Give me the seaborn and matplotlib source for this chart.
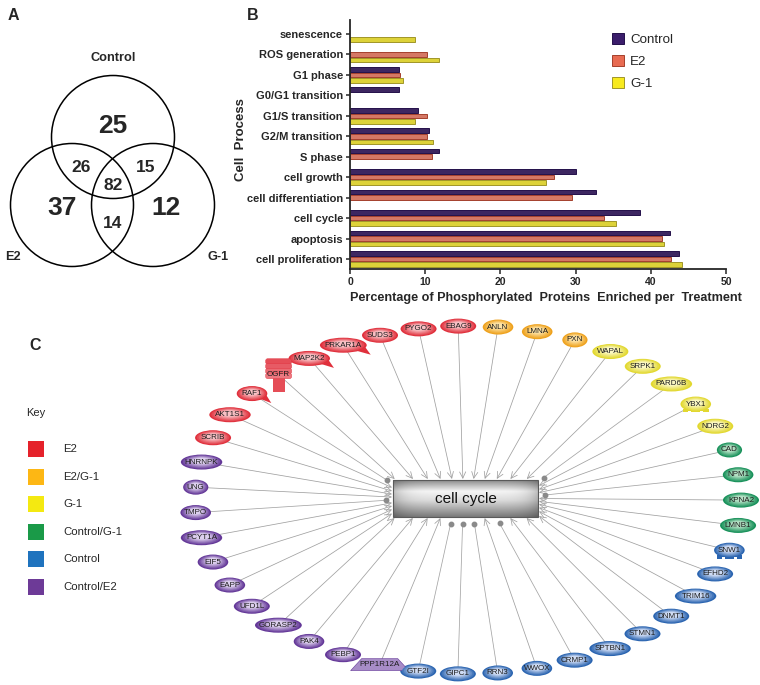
import numpy as np
import pandas as pd
import matplotlib
matplotlib.use("Agg")
import matplotlib.pyplot as plt
from matplotlib.patches import Circle, Ellipse, Rectangle, Polygon, Patch, FancyBboxPatch
from matplotlib.colors import to_rgb
import seaborn as sns

# ---- panel A: venn counts
venn_sets = ["Control", "E2", "G-1"]
venn_regions = ["Control", "Control/E2", "Control/G-1", "all", "E2", "G-1", "E2/G-1"]
venn_counts = [25, 26, 15, 82, 37, 12, 14]

# ---- panel B: % of phosphorylated proteins per process
processes = ["senescence", "ROS generation", "G1 phase", "G0/G1 transition",
             "G1/S transition", "G2/M transition", "S phase", "cell growth",
             "cell differentiation", "cell cycle", "apoptosis", "cell proliferation"]
treatments = ["Control", "E2", "G-1"]
pct_control = [np.nan, np.nan, 6.5, 6.5, 9.1, 10.5, 11.8, 30.0, 32.7, 38.6, 42.5, 43.8]
pct_e2 = [np.nan, 10.2, 6.6, np.nan, 10.2, 10.2, 10.9, 27.1, 29.5, 33.8, 41.5, 42.7]
pct_g1 = [8.7, 11.8, 7.1, np.nan, 8.7, 11.0, np.nan, 26.0, np.nan, 35.4, 41.7, 44.1]

# ---- panel C: cell cycle network (ring order, starting at the bottom)
genes = ["GTF2I", "GIPC1", "RRN3", "WWOX", "CRMP1", "SPTBN1", "STMN1", "DNMT1",
         "TRIM16", "EFHD2", "SNW1",
         "LMNB1", "KPNA2", "NPM1", "CAD",
         "NDRG2", "YBX1", "PARD6B", "SRPK1", "WAPAL",
         "PXN", "LMNA", "ANLN",
         "EBAG9", "PYGO2", "SUDS3", "PRKAR1A", "MAP2K2", "OGFR", "RAF1", "AKT1S1", "SCRIB",
         "HNRNPK", "UNG", "TMPO", "PCYT1A", "EIF5", "EAPP", "UFD1L", "GORASP2", "PAK4",
         "PEBP1", "PPP1R12A"]
gene_groups = (["Control"] * 11 + ["Control/G-1"] * 4 + ["G-1"] * 5 + ["E2/G-1"] * 3
               + ["E2"] * 9 + ["Control/E2"] * 11)
key_groups = ["E2", "E2/G-1", "G-1", "Control/G-1", "Control", "Control/E2"]
node_shapes = {"OGFR": "channel", "MAP2K2": "kinase", "PRKAR1A": "kinase", "RAF1": "kinase",
               "YBX1": "regulator", "SNW1": "regulator", "PPP1R12A": "phosphatase"}
dot_ended = ["RAF1", "PARD6B", "NPM1", "TMPO", "GTF2I", "GIPC1", "RRN3", "CRMP1"]

# colours
bar_face = ["#3b1d6b", "#e86b52", "#f8ea1e"]
bar_edge = ["#24104a", "#a4402c", "#a09628"]
key_colors = {"E2": "#e5222b", "E2/G-1": "#fdb714", "G-1": "#f4e911",
              "Control/G-1": "#1a9a48", "Control": "#1f73be", "Control/E2": "#6d3a97"}
node_dark = {"E2": "#e0303c", "E2/G-1": "#eea11c", "G-1": "#e2d830",
             "Control/G-1": "#18915a", "Control": "#2a64b0", "Control/E2": "#643898"}
node_light = {"E2": "#f8c0c4", "E2/G-1": "#fde2a4", "G-1": "#fbf8c4",
              "Control/G-1": "#b4e0c4", "Control": "#cfdcf4", "Control/E2": "#ddd0ee"}

sns.set_style("ticks")
plt.rcParams["font.family"] = ["Liberation Sans", "DejaVu Sans"]


def shade(c1, c2, t):
    a, b = np.array(to_rgb(c1)), np.array(to_rgb(c2))
    return tuple(a + (b - a) * t)


def gradient_ellipse(ax, x, y, w, h, dark, light, z=5):
    steps = 7
    for k in range(steps):
        t = k / (steps - 1)
        s = 1 - 0.6 * t
        ax.add_patch(Ellipse((x, y - 1.2 * t), w * s, h * s, fc=shade(dark, light, t),
                             ec="none", zorder=z + k * 0.01))


def draw_node(ax, x, y, name, grp):
    w = 5.4 * len(name) + 9
    h = 15
    dark, light = node_dark[grp], node_light[grp]
    shape = node_shapes.get(name, "ellipse")
    if shape == "channel":
        ax.add_patch(Rectangle((x - 6, y + 3), 12, 14, fc=shade(dark, light, 0.2), ec="none", zorder=5))
        for k in range(4):
            ax.add_patch(FancyBboxPatch((x - 13, y - 16 + k * 4.8), 26, 5.6,
                                        boxstyle="round,pad=0,rounding_size=2.2",
                                        fc=shade(dark, light, 0.2 + 0.1 * k), ec=dark, lw=0.3,
                                        zorder=5 + k * 0.01))
    elif shape == "phosphatase":
        ax.add_patch(Polygon([(x - w / 2 - 3, y + 6), (x + w / 2 + 3, y + 6),
                              (x + w / 2 - 8, y - 6), (x - w / 2 + 8, y - 6)],
                             closed=True, fc=shade(dark, light, 0.55), ec=dark, lw=0.4, zorder=5))
    else:
        if shape == "kinase":
            ax.add_patch(Polygon([(x + w * 0.2, y + h * 0.3), (x + w * 0.5 + 4, y + h * 0.5 + 2),
                                  (x + w * 0.45, y + h * 0.05)], closed=True, fc=dark, ec="none", zorder=5))
        if shape == "regulator":
            ax.add_patch(Rectangle((x - w * 0.42, y + h * 0.32), w * 0.84, 3.5, fc=dark, ec="none", zorder=5))
            for off in (-0.2, 0.2):
                ax.add_patch(Rectangle((x + w * off - 1.5, y + h * 0.32 + 2.2), 3, 1.5,
                                       fc="white", ec="none", zorder=5.1))
        gradient_ellipse(ax, x, y, w, h, dark, light)
    ax.text(x, y, name, fontsize=5.8, ha="center", va="center", color="#1c1c1c", zorder=11)


fig = plt.figure(figsize=(7.6, 6.85), dpi=100)

# full-figure canvas in pixel units for panels A and C
canvas = fig.add_axes([0, 0, 1, 1])
canvas.axis("off")

# ---- panel A
venn_centers = [(113, 137), (72, 205), (153, 205)]
for cx, cy in venn_centers:
    canvas.add_patch(Circle((cx, cy), 61.5, fill=False, ec="black", lw=1.1))
set_label_xy = [(113, 58), (13, 257), (218, 257)]
for name, (lx, ly) in zip(venn_sets, set_label_xy):
    canvas.text(lx, ly, name, fontsize=9.2, fontweight="bold", ha="center", va="center")
region_xy = [(113, 126), (81, 167), (146, 167), (113, 185), (62, 208), (166, 208), (113, 223)]
for region, count, (rx, ry) in zip(venn_regions, venn_counts, region_xy):
    big = region in venn_sets
    canvas.text(rx, ry, str(count), fontsize=19 if big else 12.5, fontweight="bold",
                ha="center", va="center")

for letter, (lx, ly) in zip("ABC", [(13, 15), (253, 15), (35, 345)]):
    canvas.text(lx, ly, letter, fontsize=11.5, fontweight="bold", ha="center", va="center")

# ---- panel C
box_x0, box_x1, box_y0, box_y1 = 393, 538, 480, 517
bcx, bcy = (box_x0 + box_x1) / 2, (box_y0 + box_y1) / 2
hw, hh = (box_x1 - box_x0) / 2, (box_y1 - box_y0) / 2

ring_cx, ring_cy, ring_a, ring_b = 468, 500, 273, 174
theta = np.deg2rad(100.5 - np.arange(len(genes)) * 360 / len(genes))
node_x = ring_cx + ring_a * np.cos(theta)
node_y = ring_cy + ring_b * np.sin(theta)

for name, grp, th, nx, ny in zip(genes, gene_groups, theta, node_x, node_y):
    c, s = np.cos(th), np.sin(th)
    k = 1 / max(abs(c), abs(s))
    ex, ey = bcx + k * (hw + 1) * c, bcy + k * (hh + 1) * s
    if name in dot_ended:
        d = np.hypot(nx - ex, ny - ey)
        ex, ey = ex + (nx - ex) / d * 6, ey + (ny - ey) / d * 6
        canvas.plot([nx, ex], [ny, ey], color="#a4a4a4", lw=0.55, zorder=2)
        canvas.plot(ex, ey, "o", ms=3.2, color="#8a8a8a", zorder=3)
    else:
        canvas.annotate("", xy=(ex, ey), xytext=(nx, ny),
                        arrowprops=dict(arrowstyle="->,head_length=0.45,head_width=0.22",
                                        color="#a0a0a0", lw=0.55, shrinkA=0, shrinkB=0),
                        zorder=2)
    draw_node(canvas, nx, ny, name, grp)

# central "cell cycle" box with metallic gradient
tt = np.linspace(0, 1, 60)[:, None]
ss = np.linspace(0, 1, 200)[None, :]
vert = np.interp(tt, [0, 0.3, 0.55, 1], [0.55, 0.96, 0.86, 0.48])
horiz = 1 - 0.22 * (np.abs(ss - 0.5) * 2) ** 6
canvas.imshow(vert * horiz, cmap="gray", vmin=0, vmax=1, aspect="auto",
              extent=(box_x0, box_x1, box_y1, box_y0), origin="upper", zorder=4)
canvas.add_patch(Rectangle((box_x0, box_y0), box_x1 - box_x0, box_y1 - box_y0,
                           fill=False, ec="#5a5a5a", lw=0.8, zorder=4.5))
canvas.text(bcx, bcy, "cell cycle", fontsize=11, ha="center", va="center", color="#111111", zorder=6)

# key
canvas.text(36, 413, "Key", fontsize=8, ha="center", va="center")
for i, grp in enumerate(key_groups):
    ky = 449 + i * 27.6
    canvas.add_patch(Rectangle((28, ky - 8), 16, 16, fc=key_colors[grp], ec="none"))
    canvas.text(63, ky, grp, fontsize=8.2, ha="left", va="center")

canvas.set_xlim(0, 760)
canvas.set_ylim(685, 0)

# ---- panel B
df = pd.DataFrame({
    "process": processes * 3,
    "treatment": ["Control"] * 12 + ["E2"] * 12 + ["G-1"] * 12,
    "pct": pct_control + pct_e2 + pct_g1,
}).dropna()

ax = fig.add_axes([350 / 760, (685 - 269) / 685, 376 / 760, 249 / 685])
ax.patch.set_alpha(0)
sns.barplot(data=df, x="pct", y="process", hue="treatment", order=processes,
            hue_order=treatments, palette=dict(zip(treatments, bar_face)), orient="h",
            width=0.82, gap=0.18, errorbar=None, linewidth=0.7, legend=False, ax=ax)
for container, edge in zip(ax.containers, bar_edge):
    for patch in container:
        patch.set_edgecolor(edge)

ax.set_xlim(0, 50)
ax.set_xticks([0, 10, 20, 30, 40, 50])
ax.set_ylim(11.49, -0.685)
sns.despine(ax=ax)
for side in ["left", "bottom"]:
    ax.spines[side].set_linewidth(1.3)
ax.tick_params(axis="y", length=3, width=1.1, pad=2, labelsize=8)
ax.tick_params(axis="x", length=3.5, width=1.1, pad=2, labelsize=7.5)
for lbl in ax.get_yticklabels() + ax.get_xticklabels():
    lbl.set_fontweight("bold")
ax.set_xlabel("Percentage of Phosphorylated  Proteins  Enriched per  Treatment",
              fontsize=9.1, fontweight="bold")
ax.xaxis.set_label_coords(0.52, -0.092)
ax.set_ylabel("Cell  Process", fontsize=9.5, fontweight="bold")
ax.yaxis.set_label_coords(-0.274, 0.52)

handles = [Patch(facecolor=f, edgecolor=e, lw=0.7, label=t)
           for t, f, e in zip(treatments, bar_face, bar_edge)]
ax.legend(handles=handles, loc="upper left", bbox_to_anchor=(612 / 760, 1 - 33 / 685),
          bbox_transform=fig.transFigure, frameon=False, fontsize=9.6, handlelength=0.9,
          handleheight=0.9, handletextpad=0.45, labelspacing=0.66, borderpad=0, borderaxespad=0)

fig.savefig("out.png", dpi=100, facecolor="white")
